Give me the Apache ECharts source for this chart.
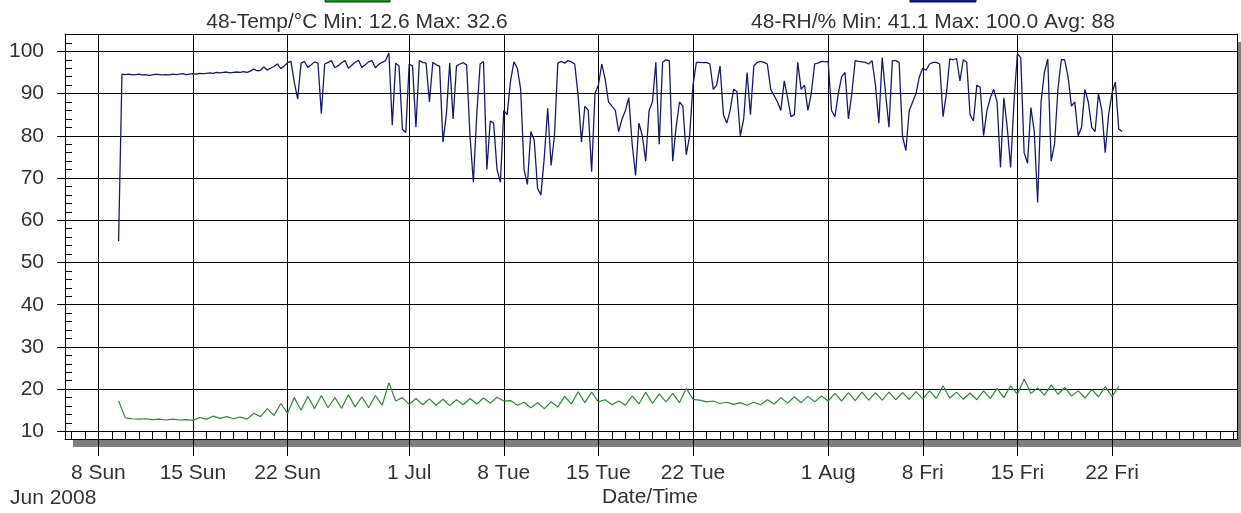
<!DOCTYPE html>
<html>
<head>
<meta charset="utf-8">
<script src="https://cdn.jsdelivr.net/npm/echarts@6/dist/echarts.min.js"></script>
<style>
html,body{margin:0;padding:0;background:#fff;}
#chart{width:1241px;height:513px;}
</style>
</head>
<body>
<div id="chart"></div>
<script>
// ---- data ----
const xTickDates = ['2008-06-08','2008-06-15','2008-06-22','2008-07-01','2008-07-08','2008-07-15','2008-07-22','2008-08-01','2008-08-08','2008-08-15','2008-08-22'];
const xTickLabels = ['8 Sun','15 Sun','22 Sun','1 Jul','8 Tue','15 Tue','22 Tue','1 Aug','8 Fri','15 Fri','22 Fri'];
const yTickValues = [10,20,30,40,50,60,70,80,90,100];
const yMinorValues = [10,12,14,16,18,20,22,24,26,28,30,32,34,36,38,40,42,44,46,48,50,52,54,56,58,60,62,64,66,68,70,72,74,76,78,80,82,84,86,88,90,92,94,96,98,100,102,104];
const tempTitle = '48-Temp/°C Min: 12.6 Max: 32.6';
const rhTitle = '48-RH/% Min: 41.1 Max: 100.0 Avg: 88';
const yearLabel = 'Jun 2008';
const xAxisName = 'Date/Time';

// RH readings every 6 hours from 9 Jun 2008 12:00
const rhStart = '2008-06-09T12:00:00';
const rhStepHours = 6;
const rhValues = [
 55.0, 94.6,
 94.5, 94.6, 94.4, 94.5,
 94.6, 94.4, 94.5, 94.3,
 94.4, 94.6, 94.5, 94.4,
 94.5, 94.4, 94.6, 94.5,
 94.6, 94.7, 94.5, 94.6,
 94.7, 94.6, 94.8, 94.7,
 94.8, 94.9, 94.8, 95.0,
 94.9, 95.0, 95.1, 94.9,
 95.0, 95.1, 95.0, 95.2,
 95.0, 95.3, 95.8, 95.4,
 95.5, 96.3, 95.6, 96.0,
 96.4, 97.0, 95.9, 96.5,
 97.3, 97.6, 92.7, 88.7,
 97.2, 97.6, 96.2, 96.8,
 97.5, 97.2, 85.2, 97.0,
 97.4, 97.8, 96.1, 96.6,
 97.3, 97.8, 96.0, 96.7,
 97.4, 97.9, 96.2, 96.8,
 97.5, 97.8, 96.1, 96.9,
 97.4, 97.8, 99.6, 82.5,
 97.2, 96.5, 81.5, 80.8,
 97.0, 96.5, 82.0, 97.8,
 97.4, 97.2, 88.0, 97.4,
 96.8, 96.5, 78.5, 85.0,
 97.2, 84.0, 96.5, 97.0,
 97.3, 96.8, 80.0, 69.0,
 85.0, 97.0, 97.6, 72.0,
 83.5, 83.0, 72.0, 69.0,
 86.0, 85.0, 93.0, 97.5,
 96.0, 91.0, 72.0, 68.5,
 81.0, 79.0, 67.5, 66.0,
 75.0, 86.5, 73.0, 80.0,
 97.2, 97.6, 97.2, 97.8,
 97.5, 97.0, 89.5, 78.5,
 87.0, 86.0, 71.5, 90.0,
 92.0, 97.0, 93.4, 88.0,
 87.0, 86.0, 81.0, 84.0,
 86.0, 89.0, 78.0, 70.6,
 83.0, 80.0, 74.0, 86.0,
 88.0, 97.4, 78.0, 97.4,
 98.0, 97.8, 74.0, 82.0,
 88.0, 87.0, 75.5, 80.0,
 92.0, 97.4, 97.4, 97.3,
 97.4, 97.0, 91.0, 92.0,
 96.5, 85.0, 83.0, 86.0,
 91.0, 90.5, 80.0, 84.0,
 95.0, 85.0, 96.5, 97.4,
 97.6, 97.4, 97.0, 91.0,
 89.5, 88.0, 86.0, 93.0,
 89.0, 84.5, 85.0, 97.4,
 91.0, 92.0, 86.0, 90.0,
 97.0, 97.2, 97.6, 97.5,
 97.6, 86.0, 84.5, 90.0,
 94.0, 95.0, 84.0, 90.0,
 97.8, 97.6, 97.5, 97.4,
 97.0, 97.8, 92.0, 83.0,
 98.5, 90.0, 82.0, 97.8,
 97.8, 97.4, 80.0, 76.5,
 86.0, 88.0, 90.0, 94.0,
 96.0, 95.5, 97.0, 97.4,
 97.4, 97.0, 84.5, 90.0,
 98.2, 98.0, 98.3, 93.0,
 98.0, 97.4, 85.0, 83.5,
 92.0, 91.5, 80.0, 86.0,
 89.0, 91.0, 88.0, 72.5,
 89.0, 82.0, 72.5, 88.0,
 99.4, 98.5, 76.0, 73.5,
 86.7, 81.0, 64.2, 88.0,
 95.0, 98.2, 74.0, 78.0,
 91.0, 98.0, 98.0, 94.0,
 87.0, 88.0, 80.0, 82.0,
 91.0, 88.0, 82.0, 81.0,
 90.0, 86.0, 76.0, 85.0,
 90.0, 92.7, 81.6, 81.0
];

// Temperature readings every 12 hours from 9 Jun 2008 12:00
const tempStart = '2008-06-09T12:00:00';
const tempStepHours = 12;
const tempValues = [
 17.2, 13.2, 13.0, 12.9, 13.0, 12.8, 12.9, 12.7, 12.9, 12.7,
 12.8, 12.6, 13.3, 12.9, 13.6, 13.1, 13.5, 13.0, 13.4, 12.9,
 14.3, 13.5, 15.4, 13.8, 16.6, 14.3, 18.0, 15.0, 18.3, 15.4,
 18.5, 15.6, 18.0, 15.5, 18.7, 15.8, 18.2, 15.6, 18.5, 16.2,
 21.5, 17.2, 18.0, 16.4, 17.8, 16.3, 17.7, 16.2, 17.6, 16.1,
 17.5, 16.3, 17.8, 16.5, 17.9, 16.7, 18.1, 17.2, 17.3, 16.2,
 16.9, 15.6, 16.8, 15.4, 17.0, 15.8, 18.3, 16.5, 19.4, 16.8,
 19.3, 17.0, 17.5, 16.3, 17.2, 16.2, 18.4, 16.5, 19.3, 16.6,
 18.9, 17.0, 19.0, 16.8, 20.2, 17.6, 17.4, 17.0, 17.2, 16.6,
 16.9, 16.4, 16.8, 16.2, 16.9, 16.3, 17.5, 16.5, 18.0, 16.7,
 18.2, 16.8, 18.3, 17.0, 18.4, 17.2, 19.0, 17.2, 19.2, 17.3,
 19.3, 17.4, 19.2, 17.4, 19.3, 17.5, 19.2, 17.6, 19.4, 17.7,
 19.6, 17.8, 20.8, 17.9, 19.3, 17.6, 19.1, 17.5, 19.6, 17.8,
 20.2, 18.0, 20.8, 18.8, 22.4, 19.0, 20.3, 18.6, 21.0, 18.8,
 20.4, 18.4, 19.6, 17.9, 19.9, 18.2, 20.6, 18.3, 20.6
];

// ---- build ----
function parseLocal(s) {
  const p = s.split(/[-T:]/).map(Number);
  return new Date(p[0], p[1] - 1, p[2], p[3] || 0, p[4] || 0, p[5] || 0).getTime();
}
const HOUR = 3600000;
const rhT0 = parseLocal(rhStart);
const tempT0 = parseLocal(tempStart);
const rhData = rhValues.map((v, i) => [rhT0 + i * rhStepHours * HOUR, v]);
const tempData = tempValues.map((v, i) => [tempT0 + i * tempStepHours * HOUR, v]);
const xTickMs = xTickDates.map(parseLocal);
const xMin = parseLocal('2008-06-05T12:50:00');
const xMax = parseLocal('2008-08-31T06:00:00');
const dayTicks = [];
for (let d = new Date(2008, 5, 6); d.getTime() <= xMax; d = new Date(d.getFullYear(), d.getMonth(), d.getDate() + 1)) {
  dayTicks.push(d.getTime());
}

const FONT = '"Liberation Sans", Arial, sans-serif';
const TXT = '#333333';
const BLACK = { color: '#000', width: 1 };
const OFF = { show: false };

const chart = echarts.init(document.getElementById('chart'), null, { renderer: 'canvas' });
chart.setOption({
  animation: false,
  backgroundColor: '#ffffff',
  grid: {
    left: 65, top: 34, right: 4, bottom: 74,
    outerBoundsMode: 'none', containLabel: false,
    show: true, backgroundColor: '#ffffff', borderWidth: 0, borderColor: 'transparent',
    shadowColor: '#7f7f7f', shadowOffsetX: 8, shadowOffsetY: 8, shadowBlur: 0
  },
  xAxis: [
    {
      type: 'value', position: 'bottom', min: xMin, max: xMax, scale: true,
      axisLine: { show: true, lineStyle: BLACK },
      axisTick: { show: true, inside: true, length: 7.5, customValues: dayTicks, lineStyle: { color: '#000' } },
      axisLabel: OFF, splitLine: OFF
    },
    {
      type: 'value', position: 'bottom', min: xMin, max: xMax, scale: true,
      axisLine: OFF,
      axisTick: { show: true, inside: false, length: 17, customValues: xTickMs, lineStyle: { color: '#000' } },
      axisLabel: {
        show: true, customValues: xTickMs, margin: 24, color: TXT, fontSize: 21, fontFamily: FONT,
        hideOverlap: false,
        formatter: function (val) { const i = xTickMs.indexOf(val); return i >= 0 ? xTickLabels[i] : ''; }
      },
      splitLine: { show: true, lineStyle: BLACK }
    },
    {
      type: 'value', position: 'top', min: xMin, max: xMax, scale: true,
      axisLine: { show: true, lineStyle: BLACK },
      axisTick: OFF, axisLabel: OFF, splitLine: OFF
    }
  ],
  yAxis: [
    {
      type: 'value', position: 'left', min: 8.2, max: 104.1,
      axisLine: { show: true, lineStyle: BLACK },
      axisTick: { show: true, inside: false, length: 8, customValues: yTickValues, lineStyle: { color: '#000' } },
      axisLabel: { show: true, customValues: yTickValues, margin: 21, color: TXT, fontSize: 21, fontFamily: FONT },
      splitLine: { show: true, lineStyle: BLACK }
    },
    {
      type: 'value', position: 'left', min: 8.2, max: 104.1,
      axisLine: OFF,
      axisTick: { show: true, inside: true, length: 7, customValues: yMinorValues, lineStyle: { color: '#000' } },
      axisLabel: OFF, splitLine: OFF
    },
    {
      type: 'value', position: 'right', min: 8.2, max: 104.1,
      axisLine: { show: true, lineStyle: BLACK },
      axisTick: OFF, axisLabel: OFF, splitLine: OFF
    }
  ],
  graphic: [
    { type: 'rect', shape: { x: 325, y: -10, width: 65, height: 12 }, style: { fill: '#2b8a2b', stroke: '#0b2f0b', lineWidth: 1 } },
    { type: 'rect', shape: { x: 910, y: -10, width: 66, height: 12 }, style: { fill: '#1a1f78', stroke: '#0a0a30', lineWidth: 1 } },
    { type: 'text', x: 357, y: 22, style: { text: tempTitle, fill: TXT, font: '21px ' + FONT, textAlign: 'center', textVerticalAlign: 'middle' } },
    { type: 'text', x: 933, y: 22, style: { text: rhTitle, fill: TXT, font: '21px ' + FONT, textAlign: 'center', textVerticalAlign: 'middle' } },
    { type: 'text', x: 10, y: 498, style: { text: yearLabel, fill: TXT, font: '21px ' + FONT, textAlign: 'left', textVerticalAlign: 'middle' } },
    { type: 'text', x: 650, y: 497, style: { text: xAxisName, fill: TXT, font: '21px ' + FONT, textAlign: 'center', textVerticalAlign: 'middle' } }
  ],
  series: [
    {
      name: '48-Temp/°C', type: 'line', xAxisIndex: 1, yAxisIndex: 0, data: tempData,
      showSymbol: false, symbol: 'none', sampling: null,
      lineStyle: { color: '#2f8a35', width: 1.2 }, z: 3
    },
    {
      name: '48-RH/%', type: 'line', xAxisIndex: 1, yAxisIndex: 0, data: rhData,
      showSymbol: false, symbol: 'none', sampling: null,
      lineStyle: { color: '#161b6e', width: 1.3 }, z: 3
    }
  ]
});
</script>
</body>
</html>
